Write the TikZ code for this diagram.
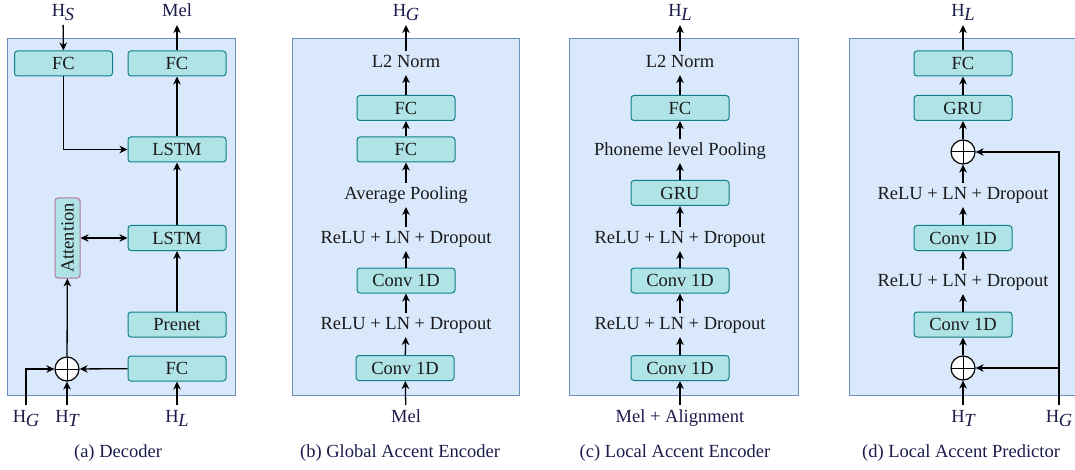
\documentclass[tikz,border=0pt]{standalone}
\usepackage{fontspec}
\setmainfont{Liberation Serif}
\usetikzlibrary{arrows.meta}
\definecolor{bgblue}{HTML}{DAE8FC}
\definecolor{bgborder}{HTML}{6C8EBF}
\definecolor{boxfill}{HTML}{B0E3E6}
\definecolor{boxdraw}{HTML}{0E8088}
\definecolor{attdraw}{HTML}{B5739D}
\definecolor{navy}{HTML}{1C1C4C}
\definecolor{ink}{HTML}{1A1A1A}
\newcommand{\Hsub}[1]{H\kern-0.3pt\raisebox{-4pt}{\itshape #1}}
\begin{document}
\begin{tikzpicture}[x=1pt,y=-1pt,
  every node/.style={font=\fontsize{18.5}{22}\selectfont},
  panel/.style={fill=bgblue,draw=bgborder,line width=1pt},
  blk/.style={fill=boxfill,draw=boxdraw,rounded corners=3pt,line width=1pt,
    minimum width=98pt,minimum height=25pt,inner sep=0pt,text=ink,
    text height=12.5pt,text depth=0pt},
  attbox/.style={fill=boxfill,draw=attdraw,rounded corners=3pt,line width=1pt,
    minimum width=25pt,minimum height=80pt,inner sep=0pt,text=ink},
  txt/.style={text=ink,inner sep=0pt,outer sep=3.5pt,text height=13pt,text depth=4pt},
  lbl/.style={text=navy,inner sep=0pt,outer sep=4pt,text height=13pt,text depth=4pt},
  captxt/.style={text=navy,inner sep=0pt},
  arr/.style={-{Stealth[length=8pt,width=7.5pt,inset=2.5pt]},line width=1.3pt,draw=black},
  darr/.style={{Stealth[length=8pt,width=7.5pt,inset=2.5pt]}-{Stealth[length=8pt,width=7.5pt,inset=2.5pt]},line width=1.3pt,draw=black},
  sumc/.style={circle,draw=black,fill=white,line width=1.2pt,minimum size=24pt,inner sep=0pt,
    path picture={\draw[line width=1pt] (path picture bounding box.north) -- (path picture bounding box.south)
      (path picture bounding box.west) -- (path picture bounding box.east);}}
]
\useasboundingbox (0,0) rectangle (1075,470);
% panels
\path[panel] (7,39) rectangle (235,395);
\path[panel] (292,39) rectangle (519,395);
\path[panel] (569,39) rectangle (798,395);
\path[panel] (849,39) rectangle (1080,395);

% ---------- (a) Decoder ----------
\node[blk] (fcS) at (63.5,63.5) {FC};
\node[blk] (fcM) at (177,63.5) {FC};
\node[blk] (lstm1) at (177,149.5) {LSTM};
\node[blk] (lstm2) at (177,238) {LSTM};
\node[blk] (prenet) at (177,324.5) {Prenet};
\node[blk] (fcL) at (177,368.5) {FC};
\node[attbox] (att) at (67.5,238) {\rotatebox{90}{Attention}};
\node[sumc] (sum) at (67,369) {};
\node[lbl] (hS) at (63,12.5) {\Hsub{S}};
\node[lbl] (melA) at (177,12.5) {Mel};
\node[lbl] (hGa) at (26,417.5) {\Hsub{G}};
\node[lbl] (hTa) at (67,417.5) {\Hsub{T}};
\node[lbl] (hLa) at (177,417.5) {\Hsub{L}};
\node[captxt] (capa) at (118,453) {(a) Decoder};
\draw[arr] (hS) -- (fcS);
\draw[arr] (fcM) -- (melA);
\draw[arr] (fcS.south) |- (lstm1.west);
\draw[arr] (lstm1) -- (fcM);
\draw[arr] (lstm2) -- (lstm1);
\draw[arr] (prenet) -- (lstm2);
\draw[darr] (att.east) -- (lstm2.west);
\draw[arr] (sum) -- (att);
\draw[arr] (fcL) -- (sum);
\draw[arr] (hLa) -- (fcL);
\draw[arr] (hTa) -- (sum);
\draw[arr] (hGa.north) |- (sum.west);

% ---------- (b) Global Accent Encoder ----------
\node[lbl] (hGb) at (406,12.5) {\Hsub{G}};
\node[txt] (l2b) at (406,63) {L2 Norm};
\node[blk] (fcb1) at (406,108) {FC};
\node[blk] (fcb2) at (406,149.5) {FC};
\node[txt] (avgb) at (406,195) {Average Pooling};
\node[txt] (relub1) at (406,239) {ReLU + LN + Dropout};
\node[blk] (convb1) at (406,280.5) {Conv 1D};
\node[txt] (relub2) at (406,325) {ReLU + LN + Dropout};
\node[blk] (convb2) at (405,368) {Conv 1D};
\node[lbl] (melb) at (406,417.5) {Mel};
\node[captxt] (capb) at (400,453) {(b) Global Accent Encoder};
\draw[arr] (melb) -- (convb2);
\draw[arr] (convb2) -- (relub2);
\draw[arr] (relub2) -- (convb1);
\draw[arr] (convb1) -- (relub1);
\draw[arr] (relub1) -- (avgb);
\draw[arr] (avgb) -- (fcb2);
\draw[arr] (fcb2) -- (fcb1);
\draw[arr] (fcb1) -- (l2b);
\draw[arr] (l2b) -- (hGb);

% ---------- (c) Local Accent Encoder ----------
\node[lbl] (hLc) at (680,12.5) {\Hsub{L}};
\node[txt] (l2c) at (680,63) {L2 Norm};
\node[blk] (fcc) at (680,108) {FC};
\node[txt] (phon) at (680,151) {Phoneme level Pooling};
\node[blk] (gru) at (680,193) {GRU};
\node[txt] (reluc1) at (680,239) {ReLU + LN + Dropout};
\node[blk] (convc1) at (680,280.5) {Conv 1D};
\node[txt] (reluc2) at (680,325) {ReLU + LN + Dropout};
\node[blk] (convc2) at (680,368) {Conv 1D};
\node[lbl] (melal) at (680,417.5) {Mel + Alignment};
\node[captxt] (capc) at (675,453) {(c) Local Accent Encoder};
\draw[arr] (melal) -- (convc2);
\draw[arr] (convc2) -- (reluc2);
\draw[arr] (reluc2) -- (convc1);
\draw[arr] (convc1) -- (reluc1);
\draw[arr] (reluc1) -- (gru);
\draw[arr] (gru) -- (phon);
\draw[arr] (phon) -- (fcc);
\draw[arr] (fcc) -- (l2c);
\draw[arr] (l2c) -- (hLc);

% ---------- (d) Local Accent Predictor ----------
\node[lbl] (hLd) at (963,12.5) {\Hsub{L}};
\node[blk] (fcd) at (963,63.5) {FC};
\node[blk] (grud) at (963,108) {GRU};
\node[sumc] (sumd1) at (963,152) {};
\node[txt] (relud1) at (963,195) {ReLU + LN + Dropout};
\node[blk] (convd1) at (963,238) {Conv 1D};
\node[txt] (relud2) at (963,282) {ReLU + LN + Dropout};
\node[blk] (convd2) at (963,324.5) {Conv 1D};
\node[sumc] (sumd2) at (963,368) {};
\node[lbl] (hTd) at (963,417.5) {\Hsub{T}};
\node[lbl] (hGd) at (1059,417.5) {\Hsub{G}};
\node[captxt] (capd) at (961,453) {(d) Local Accent Predictor};
\draw[arr] (hTd) -- (sumd2);
\draw[arr] (sumd2) -- (convd2);
\draw[arr] (convd2) -- (relud2);
\draw[arr] (relud2) -- (convd1);
\draw[arr] (convd1) -- (relud1);
\draw[arr] (relud1) -- (sumd1);
\draw[arr] (sumd1) -- (grud);
\draw[arr] (grud) -- (fcd);
\draw[arr] (fcd) -- (hLd);
\draw[arr] (hGd.north) |- (sumd1.east);
\draw[arr] (hGd.north |- sumd2.east) -- (sumd2.east);
\end{tikzpicture}
\end{document}
